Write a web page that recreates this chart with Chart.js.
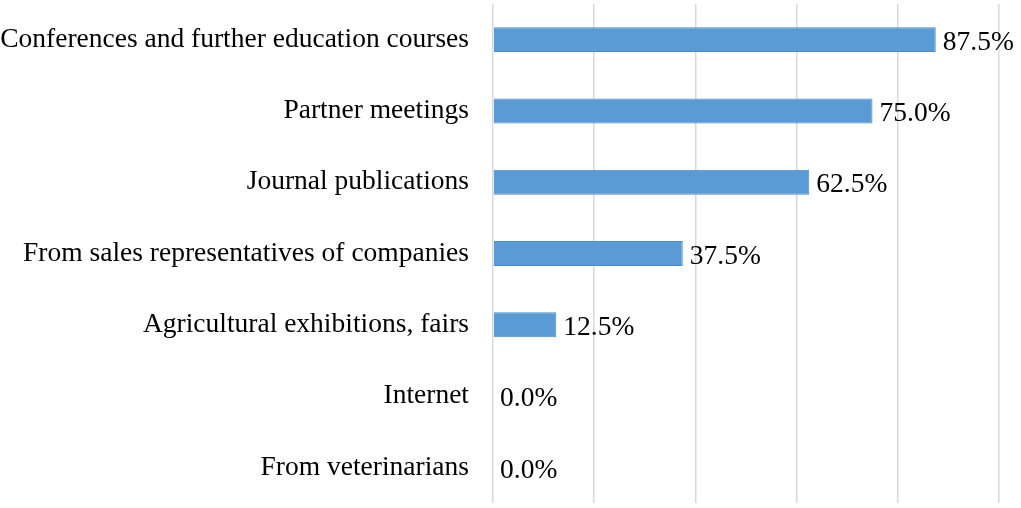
<!DOCTYPE html>
<html>
<head>
<meta charset="utf-8">
<script src="https://cdn.jsdelivr.net/npm/chart.js@4/dist/chart.umd.min.js"></script>
<style>
  html, body { margin: 0; padding: 0; background: #fff; }
  #wrap { width: 1021px; height: 508px; }
</style>
</head>
<body>
<div id="wrap"><canvas id="fuentes"></canvas></div>
<script>
// Sources of information (share of respondents, %)
const categorias = [
  'Conferences and further education courses',
  'Partner meetings',
  'Journal publications',
  'From sales representatives of companies',
  'Agricultural exhibitions, fairs',
  'Internet',
  'From veterinarians'
];
const porcentajes = [87.5, 75.0, 62.5, 37.5, 12.5, 0.0, 0.0];
const ejeMin = 0;
const ejeMax = 100;
const ejePaso = 20;

const fuente = '"Liberation Serif", "Times New Roman", serif';

// etiquetas de valor al final de cada barra
const etiquetasValor = {
  id: 'etiquetasValor',
  afterDatasetsDraw(chart) {
    const ctx = chart.ctx;
    const meta = chart.getDatasetMeta(0);
    ctx.save();
    ctx.font = '27.5px ' + fuente;
    ctx.fillStyle = '#000';
    ctx.textAlign = 'left';
    ctx.textBaseline = 'middle';
    meta.data.forEach((bar, i) => {
      const v = chart.data.datasets[0].data[i];
      ctx.fillText(v.toFixed(1) + '%', bar.x + 7, bar.y + 3);
    });
    ctx.restore();
  }
};

const ctx1 = document.getElementById('fuentes').getContext('2d');
const fuentesChart = new Chart(ctx1, {
  type: 'bar',
  data: {
    labels: categorias,
    datasets: [
      {
        label: 'Share',
        data: porcentajes,
        backgroundColor: '#5b9bd5',
        borderColor: '#4a8ccc',
        borderWidth: 1,
        barPercentage: 0.35,
        categoryPercentage: 1.0,
      },
    ],
  },
  options: {
    indexAxis: 'y',
    responsive: true,
    maintainAspectRatio: false,
    animation: false,
    layout: { padding: { top: 4, bottom: 5, right: 22, left: 0 } },
    plugins: {
      legend: { display: false },
      tooltip: { enabled: false },
    },
    scales: {
      x: {
        min: ejeMin,
        max: ejeMax,
        ticks: { display: false, stepSize: ejePaso },
        grid: { color: '#d9d9d9', lineWidth: 1.5, drawTicks: false },
        border: { display: false },
        afterFit(scale) {
          scale.height = 0;
          scale.paddingLeft = 0;
          scale.paddingRight = 0;
        },
      },
      y: {
        grid: { display: false },
        border: { display: false },
        ticks: {
          color: '#000',
          padding: 16,
          font: { family: fuente, size: 27.5 },
        },
        afterFit(scale) {
          scale.width = 493;
          scale.paddingTop = 0;
          scale.paddingBottom = 0;
        },
      },
    },
  },
  plugins: [etiquetasValor],
});
</script>
</body>
</html>
